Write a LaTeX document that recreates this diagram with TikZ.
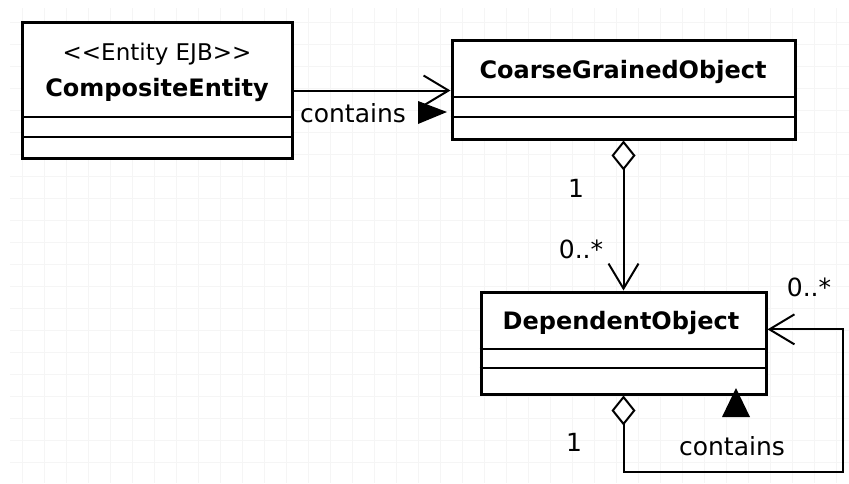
\documentclass[tikz,border=0pt]{standalone}
\usepackage{fontspec}
\setmainfont{DejaVu Sans}
\usetikzlibrary{arrows.meta,calc}

\begin{document}
\begin{tikzpicture}[x=1pt,y=-1pt,
  classbox/.style={draw=black,line width=3pt,fill=white,inner sep=0pt},
  divider/.style={line width=2pt},
  classname/.style={font=\fontsize{24}{28}\selectfont\bfseries,inner sep=0pt},
  stereo/.style={font=\fontsize{23}{27}\selectfont,inner sep=0pt},
  lbl/.style={font=\fontsize{25}{29}\selectfont,inner sep=0pt},
  assoc/.style={line width=2pt,-{Straight Barb[length=25pt,width=30pt,line width=2pt]}},
  aggr/.style={line width=2pt,{Diamond[open,fill=white,length=30pt,width=24pt,line width=2pt]}-{Straight Barb[length=25pt,width=30pt,line width=2pt]}},
  dirmark/.style={fill=black,draw=none}]

  % canvas and faint drawing grid
  \useasboundingbox (0,0) rectangle (849,483);
  \fill[white] (0,0) rectangle (849,483);
  \draw[black!4,line width=0.8pt] (10,8) grid[step=22pt] (849,483);

  % CompositeEntity class
  \node[classbox,minimum width=270pt,minimum height=136pt] (ce) at (157.5,90.5) {};
  \node[stereo] (ceStereo) at (157,54) {<\kern0pt<Entity EJB>\kern0pt>};
  \node[classname] (ceName) at (157,90) {CompositeEntity};
  \draw[divider] ($(ce.north west)!0.69!(ce.south west)$) -- ($(ce.north east)!0.69!(ce.south east)$);
  \draw[divider] ($(ce.north west)!0.835!(ce.south west)$) -- ($(ce.north east)!0.835!(ce.south east)$);

  % CoarseGrainedObject class
  \node[classbox,minimum width=343pt,minimum height=99pt] (cgo) at (623.5,89.5) {};
  \node[classname] (cgoName) at (623,72) {CoarseGrainedObject};
  \draw[divider] ($(cgo.north west)!0.57!(cgo.south west)$) -- ($(cgo.north east)!0.57!(cgo.south east)$);
  \draw[divider] ($(cgo.north west)!0.77!(cgo.south west)$) -- ($(cgo.north east)!0.77!(cgo.south east)$);

  % DependentObject class
  \node[classbox,minimum width=285pt,minimum height=102pt] (do) at (623.5,343) {};
  \node[classname] (doName) at (621,323) {DependentObject};
  \draw[divider] ($(do.north west)!0.56!(do.south west)$) -- ($(do.north east)!0.56!(do.south east)$);
  \draw[divider] ($(do.north west)!0.735!(do.south west)$) -- ($(do.north east)!0.735!(do.south east)$);

  % CompositeEntity contains CoarseGrainedObject
  \draw[assoc] (ce.east) -- (ce.east -| cgo.west);
  \node[lbl] (c1) at (353,113) {contains};
  \fill[dirmark] (418,101) -- (447,112) -- (418,124) -- cycle;

  % CoarseGrainedObject aggregates DependentObject
  \draw[aggr] (cgo.south) -- (do.north);
  \node[lbl] (m1) at (576,188) {1};
  \node[lbl] (m2) at (581,249) {0..*};

  % DependentObject self aggregation
  \coordinate (loopcorner) at (843,472);
  \coordinate (doport) at ($(do.north east)!0.37!(do.south east)$);
  \draw[aggr] (do.south) |- (loopcorner) |- (doport);
  \node[lbl] (m3) at (809,287) {0..*};
  \node[lbl] (m4) at (574,442) {1};
  \node[lbl] (c2) at (732,446) {contains};
  \fill[dirmark] (736,388) -- (750,417) -- (722,417) -- cycle;
\end{tikzpicture}
\end{document}
